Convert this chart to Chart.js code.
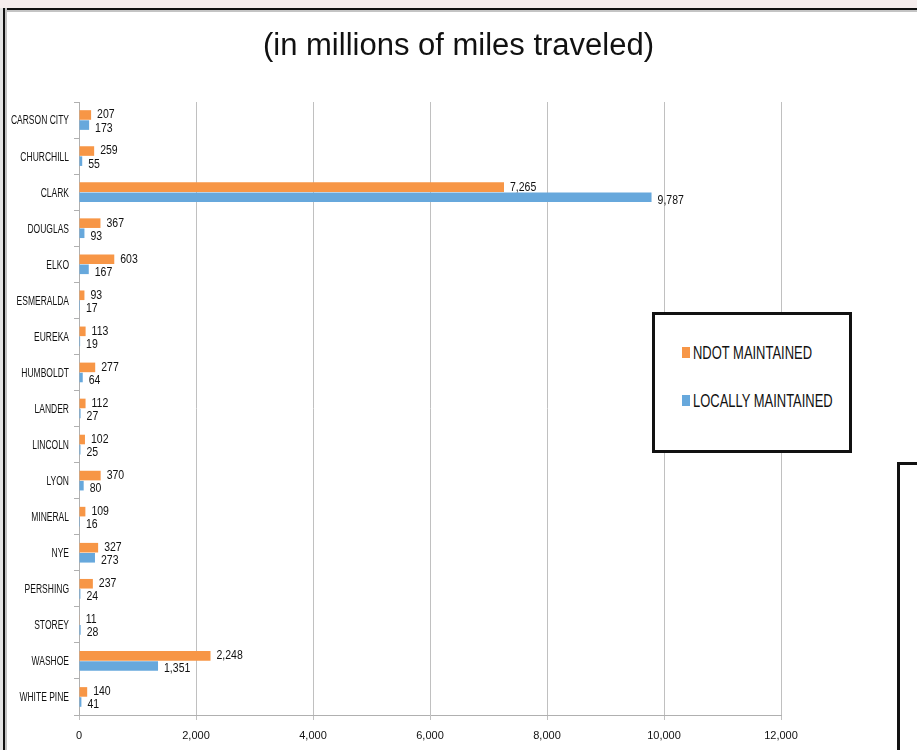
<!DOCTYPE html>
<html>
<head>
<meta charset="utf-8">
<script src="https://cdn.jsdelivr.net/npm/chart.js@4.4.1/dist/chart.umd.min.js"></script>
<style>
  html, body { margin: 0; padding: 0; background: #fff; overflow: hidden; }
  #wrap { position: relative; width: 917px; height: 750px; }
  #chart { position: absolute; left: 0; top: 0; }
  .topband { position: absolute; left: 0; top: 0; width: 917px; height: 8px; background: #f5eded; }
  .topline { position: absolute; left: 3px; top: 8px; width: 914px; height: 2px; background: #111; border-bottom: 2px solid #c4c4c4; }
  .leftline { position: absolute; left: 3px; top: 8px; width: 2px; height: 742px; background: #111; border-right: 2px solid #c4c4c4; }
  .leftshade { position: absolute; left: 0; top: 8px; width: 3px; height: 742px; background: #e4e4e4; }
  .sidebox { position: absolute; left: 897px; top: 462px; width: 40px; height: 300px; border: 3px solid #111; background: #fff; }
  #title {
    position: absolute; left: 0; top: 26px; width: 917px; text-align: center;
    font-family: "Liberation Sans", Arial, sans-serif; font-size: 31px; line-height: 38px; color: #111;
  }
  #legend {
    position: absolute; left: 652px; top: 312px; width: 194px; height: 135px;
    border: 3px solid #111; background: #fff;
    font-family: "Liberation Sans", Arial, sans-serif; font-size: 18px; color: #111;
  }
  #legend .sw { position: absolute; left: 27px; width: 8px; height: 11px; }
  #legend .txt { position: absolute; left: 38px; white-space: nowrap; line-height: 20px;
                 transform: scaleX(0.72); transform-origin: left center; }
</style>
</head>
<body>
<div id="wrap">
  <canvas id="chart" width="917" height="750"></canvas>
  <div class="topband"></div>
  <div class="leftshade"></div>
  <div class="topline"></div>
  <div class="leftline"></div>
  <div id="title">(in millions of miles traveled)</div>
  <div id="legend"></div>
  <div class="sidebox"></div>
</div>
<script>
const counties = ["CARSON CITY", "CHURCHILL", "CLARK", "DOUGLAS", "ELKO", "ESMERALDA", "EUREKA",
    "HUMBOLDT", "LANDER", "LINCOLN", "LYON", "MINERAL", "NYE", "PERSHING", "STOREY", "WASHOE", "WHITE PINE"];
const ndotMaintained = [207, 259, 7265, 367, 603, 93, 113, 277, 112, 102, 370, 109, 327, 237, 11, 2248, 140];
const locallyMaintained = [173, 55, 9787, 93, 167, 17, 19, 64, 27, 25, 80, 16, 273, 24, 28, 1351, 41];
const seriesNames = ["NDOT MAINTAINED", "LOCALLY MAINTAINED"];
const seriesColors = ["#f79646", "#67a8dc"];
const xTicks = [0, 2000, 4000, 6000, 8000, 10000, 12000];

const sans = '"Liberation Sans", Arial, sans-serif';
const fmt = v => v.toLocaleString('en-US');

// squeeze text horizontally so it reads like a condensed face
function narrowText(ctx, text, x, y, align, sx) {
    ctx.save();
    ctx.translate(x, y);
    ctx.scale(sx, 1);
    ctx.textAlign = align;
    ctx.fillText(text, 0, 0);
    ctx.restore();
}

// value labels just past the end of each bar, county names beside the axis
const textLayer = {
    id: 'textLayer',
    afterDatasetsDraw(chart) {
        const ctx = chart.ctx;
        ctx.save();
        ctx.fillStyle = '#111';
        ctx.textBaseline = 'middle';
        ctx.font = '12.5px ' + sans;
        chart.data.datasets.forEach((ds, i) => {
            const meta = chart.getDatasetMeta(i);
            meta.data.forEach((bar, j) => {
                const dy = i === 0 ? 0 : 3;
                narrowText(ctx, fmt(ds.data[j]), bar.x + 6, bar.y + dy, 'left', 0.84);
            });
        });
        const yScale = chart.scales.y;
        ctx.font = '12.5px ' + sans;
        counties.forEach((name, i) => {
            narrowText(ctx, name, yScale.right - 10, yScale.getPixelForTick(i) + 1, 'right', 0.68);
        });
        ctx.restore();
    }
};

new Chart(document.getElementById('chart'), {
    type: 'bar',
    data: {
        labels: counties,
        datasets: [
            { label: seriesNames[0], data: ndotMaintained, backgroundColor: seriesColors[0] },
            { label: seriesNames[1], data: locallyMaintained, backgroundColor: seriesColors[1] }
        ]
    },
    options: {
        indexAxis: 'y',
        responsive: false,
        animation: false,
        devicePixelRatio: 1,
        categoryPercentage: 0.56,
        barPercentage: 0.95,
        layout: { padding: { top: 102, right: 136, bottom: 0, left: 8 } },
        plugins: {
            legend: { display: false },
            tooltip: { enabled: false }
        },
        scales: {
            x: {
                min: 0,
                max: 12000,
                afterBuildTicks(scale) { scale.ticks = xTicks.map(v => ({ value: v })); },
                afterFit(scale) { scale.height = 35; },
                grid: { color: '#c0c0c0', tickLength: 5, drawTicks: true },
                border: { color: '#b0b0b0' },
                ticks: {
                    color: '#111',
                    padding: 9,
                    maxRotation: 0,
                    font: { family: sans, size: 11 },
                    callback: v => fmt(v)
                }
            },
            y: {
                afterFit(scale) { scale.width = 71; },
                grid: { drawOnChartArea: false, tickLength: 5, color: '#b0b0b0' },
                border: { color: '#b0b0b0' },
                ticks: { display: false }
            }
        }
    },
    plugins: [textLayer]
});

// legend box built from the series names and colours
const legend = document.getElementById('legend');
seriesNames.forEach((name, i) => {
    const top = i === 0 ? 32 : 80;
    const sw = document.createElement('div');
    sw.className = 'sw';
    sw.style.top = top + 'px';
    sw.style.background = seriesColors[i];
    legend.appendChild(sw);
    const txt = document.createElement('div');
    txt.className = 'txt';
    txt.style.top = (top - 4) + 'px';
    txt.textContent = name;
    legend.appendChild(txt);
});
</script>
</body>
</html>
